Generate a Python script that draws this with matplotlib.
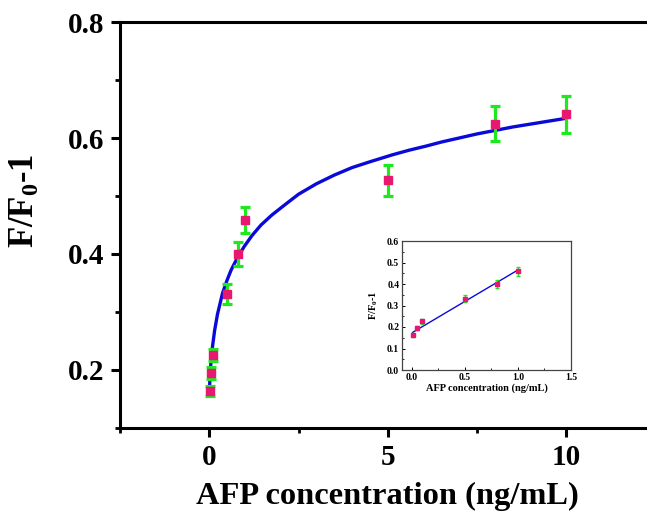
import matplotlib
matplotlib.use("Agg")
import matplotlib.pyplot as plt
from matplotlib.ticker import MultipleLocator

# measured points (main plot)
conc = [0.01, 0.05, 0.1, 0.5, 0.8, 1.0, 5.0, 8.0, 10.0]
resp = [0.164, 0.195, 0.226, 0.331, 0.400, 0.459, 0.527, 0.625, 0.641]
resp_err = [0.009, 0.010, 0.011, 0.017, 0.020, 0.022, 0.027, 0.031, 0.032]

# fitted curve
fit_x = [0.01, 0.03, 0.06, 0.09, 0.15, 0.23, 0.37, 0.5, 0.61, 0.8, 0.98, 1.2,
         1.45, 1.75, 2.1, 2.5, 3.0, 3.5, 4.0, 4.5, 5.13, 5.6, 6.07, 6.5, 7.0,
         7.5, 8.0, 8.5, 9.0, 9.5, 10.0]
fit_y = [0.172, 0.200, 0.222, 0.240, 0.268, 0.296, 0.332, 0.355, 0.372, 0.395,
         0.413, 0.432, 0.450, 0.467, 0.484, 0.503, 0.521, 0.536, 0.549, 0.559,
         0.571, 0.579, 0.586, 0.593, 0.600, 0.607, 0.613, 0.619, 0.624, 0.629,
         0.634]

# inset: linear range
lin_x = conc[:6]
lin_y = resp[:6]
lin_err = resp_err[:6]
lin_fit_x = [0.01, 1.0]
lin_fit_y = [0.175, 0.465]

plt.rcParams['font.family'] = 'Liberation Serif'
plt.rcParams['font.weight'] = 'bold'
plt.rcParams['mathtext.fontset'] = 'custom'
plt.rcParams['mathtext.rm'] = 'Liberation Serif:bold'
plt.rcParams['mathtext.bf'] = 'Liberation Serif:bold'
plt.rcParams['mathtext.it'] = 'Liberation Serif:bold'

pink = '#e8176f'
green = '#1ee81e'
blue = '#0a0ad8'

fig = plt.figure(figsize=(6.47, 5.18), dpi=100)
ax = fig.add_axes([120/647, 90/518, 535.5/647, 406/518])

ax.plot(fit_x, fit_y, color=blue, lw=2.4, zorder=2)
ax.errorbar(conc, resp, yerr=resp_err, fmt='none', ecolor=green, elinewidth=2.3,
            capsize=3.8, capthick=2.3, zorder=3)
ax.plot(conc, resp, 's', color=pink, ms=5.3, mec=pink, zorder=4)

ax.set_xlim(-2.5, 12.5)
ax.set_ylim(0.1, 0.8)
ax.set_xticks([0, 5, 10])
ax.set_yticks([0.2, 0.4, 0.6, 0.8])
ax.xaxis.set_minor_locator(MultipleLocator(2.5))
ax.yaxis.set_minor_locator(MultipleLocator(0.1))
for s in ax.spines.values():
    s.set_linewidth(2.2)
ax.tick_params(which='major', direction='out', length=6.5, width=2.2,
               labelsize=21, pad=5, top=False, right=False)
ax.tick_params(which='minor', direction='out', length=3.5, width=2.0,
               top=False, right=False)
ax.set_xlabel('AFP concentration (ng/mL)', fontsize=23.4, fontweight='bold', labelpad=8)
ax.set_ylabel(r'F/F$_\mathbf{0}$-1', fontsize=25, fontweight='bold')
ax.yaxis.set_label_coords(-0.146, 0.56)

# inset
ins = fig.add_axes([402/647, (518-370)/518, 169/647, 129/518])
ins.plot(lin_fit_x, lin_fit_y, color=blue, lw=1.0, zorder=2)
ins.errorbar(lin_x, lin_y, yerr=lin_err, fmt='none', ecolor=green, elinewidth=1.0,
             capsize=1.5, capthick=1.0, zorder=3)
ins.plot(lin_x, lin_y, 's', color=pink, ms=2.5, mec=pink, zorder=4)
ins.set_xlim(-0.09, 1.5)
ins.set_ylim(0, 0.6)
ins.set_xticks([0.0, 0.5, 1.0, 1.5])
ins.set_yticks([0.0, 0.1, 0.2, 0.3, 0.4, 0.5, 0.6])
ins.xaxis.set_minor_locator(MultipleLocator(0.25))
ins.yaxis.set_minor_locator(MultipleLocator(0.05))
for s in ins.spines.values():
    s.set_linewidth(0.9)
    s.set_color('#444444')
ins.tick_params(which='major', direction='in', length=2.5, width=0.7,
                labelsize=7, pad=2, top=False, right=False)
ins.tick_params(which='minor', direction='in', length=1.5, width=0.6,
                top=False, right=False)
ins.set_xlabel('AFP concentration (ng/mL)', fontsize=7.5, fontweight='bold', labelpad=1)
ins.set_ylabel(r'F/F$_\mathbf{0}$-1', fontsize=7.5, fontweight='bold', labelpad=5)

fig.savefig('out.png', dpi=100)
